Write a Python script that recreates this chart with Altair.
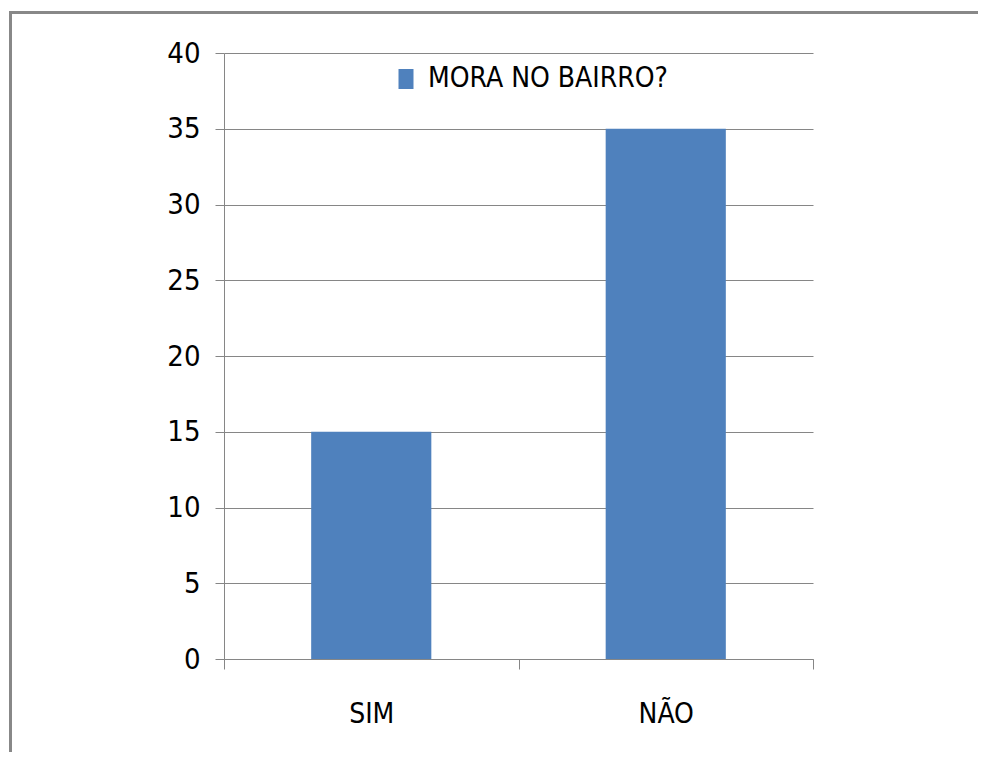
import altair as alt
import pandas as pd

categories = ["SIM", "NÃO"]
values = [15, 35]
series_name = "MORA NO BAIRRO?"
y_ticks = [0, 5, 10, 15, 20, 25, 30, 35, 40]

df = pd.DataFrame({"categoria": categories, "valor": values, "serie": [series_name] * len(categories)})

FONT = "Liberation Sans Narrow, DejaVu Sans Condensed, Arial Narrow, sans-serif"
GRID = "#868686"
BAR = "#4F81BD"

bars = alt.Chart(df).mark_bar(width=alt.RelativeBandSize(0.408)).encode(
    x=alt.X("categoria:N", sort=categories, title=None,
            scale=alt.Scale(paddingInner=0, paddingOuter=0),
            axis=alt.Axis(labelAngle=0, tickBand="extent", grid=False, ticks=True,
                          tickSize=10, tickColor=GRID, domainColor=GRID,
                          labelFontSize=28, labelFont=FONT, labelColor="#000000",
                          labelPadding=31)),
    y=alt.Y("valor:Q", title=None,
            scale=alt.Scale(domain=[0, 40], nice=False),
            axis=alt.Axis(values=y_ticks, grid=True, gridColor=GRID, tickColor=GRID,
                          tickSize=9, domainColor=GRID, labelFontSize=29, labelFont=FONT,
                          labelColor="#000000", labelPadding=15)),
    color=alt.Color("serie:N", scale=alt.Scale(range=[BAR]),
                    legend=alt.Legend(title=None, orient="none", legendX=168, legendY=12,
                                      labelFontSize=28, labelFont=FONT, labelColor="#000000",
                                      labelLimit=500,
                                      symbolType="M-0.75,-1H0.75V1H-0.75Z", symbolSize=400,
                                      symbolStrokeWidth=0, labelOffset=8)),
)

frame = alt.Chart(df).mark_rect(fill=None, stroke="#888888", strokeWidth=3).encode(
    x=alt.value(-213.5), x2=alt.value(900), y=alt.value(-40.5), y2=alt.value(900)
)

chart = alt.layer(frame, bars).properties(
    width=589, height=606,
    autosize=alt.AutoSizeParams(type="none"),
    padding={"left": 216, "top": 45, "right": 165, "bottom": 93},
).configure_view(stroke=None).configure_axis(domainWidth=1, tickWidth=1, gridWidth=1)

chart.save("out.html", embed_options={"renderer": "svg", "actions": False})
